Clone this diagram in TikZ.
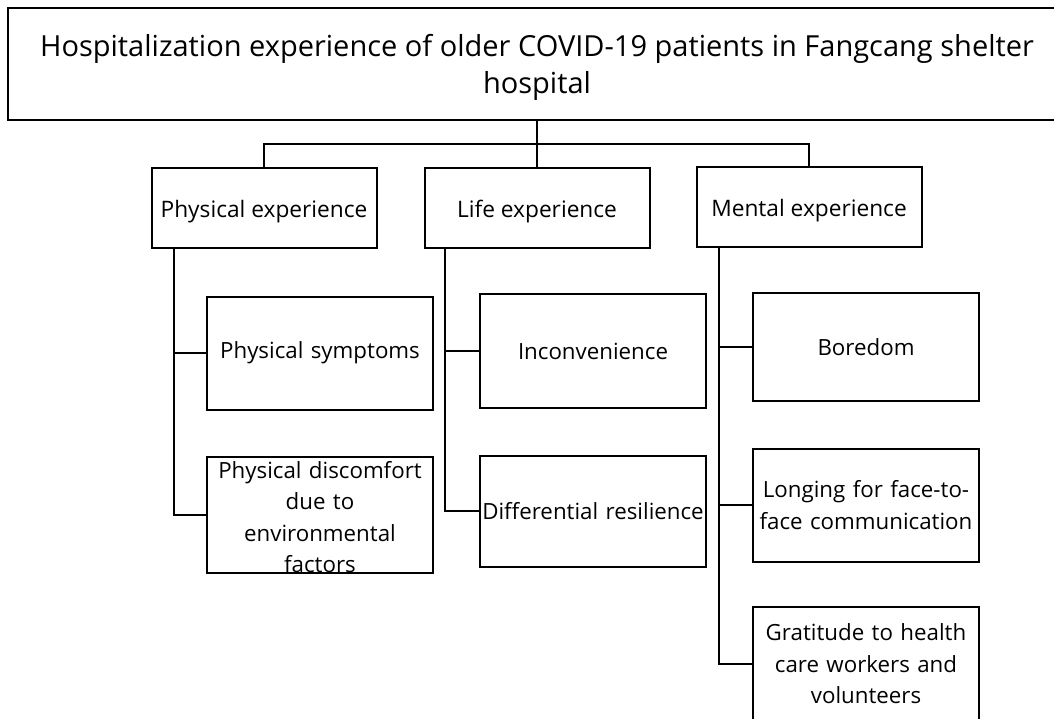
\documentclass[tikz,border=0pt]{standalone}
\usepackage{fontspec}
\setmainfont{Open Sans}
\usepackage{xcolor}

\begin{document}
\begin{tikzpicture}[x=1pt, y=-1pt, line width=2pt,
    titlebox/.style = {draw, rectangle, inner sep=0pt, minimum width=1058pt, minimum height=112pt},
    titletext/.style = {inner sep=0pt, align=center, font=\fontsize{29}{37}\selectfont},
    groupbox/.style = {draw, rectangle, inner sep=0pt, minimum width=225pt, minimum height=80pt, text height=25pt, text depth=5.5pt, align=center, font=\fontsize{22.7}{31.5}\selectfont},
    leafbox/.style = {draw, rectangle, inner sep=0pt, minimum width=226pt, text width=224pt, align=center, font=\fontsize{22.3}{31.5}\selectfont},
    leaftext/.style = {inner sep=0pt, text width=224pt, align=center, font=\fontsize{22.3}{31.5}\selectfont}]
                \useasboundingbox (0,0) rectangle (1054,718);
                \node[titlebox] (title) at (537,64) {};
                \node[titletext] at (537,67.5) {Hospitalization experience of older COVID-19 patients in Fangcang shelter\\hospital};
                \coordinate (hub) at (537,144);
                
                \node[groupbox] (phys) at (264,208) {Physical experience};
                \node[groupbox] (life) at (537,207.5) {Life experience};
                \node[groupbox] (ment) at (809,207) {Mental experience};
                \draw (title.south -| hub) -- (hub);
                \draw (phys.north) -- (phys.north |- hub) -- (ment.north |- hub) -- (ment.north);
                \draw (hub) -- (life.north);
                
                \node[leafbox, minimum height=113pt] (psym) at (320,353) {Physical symptoms};
                \node[leafbox, minimum height=116pt] (pdis) at (320,515) {};
                \node[leaftext] at (320,517) {Physical discomfort\\due to\\environmental\\factors};
                \coordinate (pspine) at ([xshift=23pt]phys.south west);
                \draw (pspine) |- (pdis.west);
                \draw (psym.west) -- (psym.west -| pspine);
                
                \node[leafbox, minimum height=114pt] (linc) at (593,351) {Inconvenience};
                \node[leafbox, minimum height=111pt] (ldif) at (593,511) {Differential resilience};
                \coordinate (lspine) at ([xshift=21pt]life.south west);
                \draw (lspine) |- (ldif.west);
                \draw (linc.west) -- (linc.west -| lspine);
                
                \node[leafbox, minimum height=108pt] (mbor) at (866,347) {Boredom};
                \node[leafbox, minimum height=113pt] (mlong) at (866,505) {Longing for face-to-\\face communication};
                \node[leafbox, minimum height=114pt] (mgrat) at (866,664) {Gratitude to health\\care workers and\\volunteers};
                \coordinate (mspine) at ([xshift=23pt]ment.south west);
                \draw (mspine) |- (mgrat.west);
                \draw (mbor.west) -- (mbor.west -| mspine);
                \draw (mlong.west) -- (mlong.west -| mspine);
            \end{tikzpicture}
\end{document}
